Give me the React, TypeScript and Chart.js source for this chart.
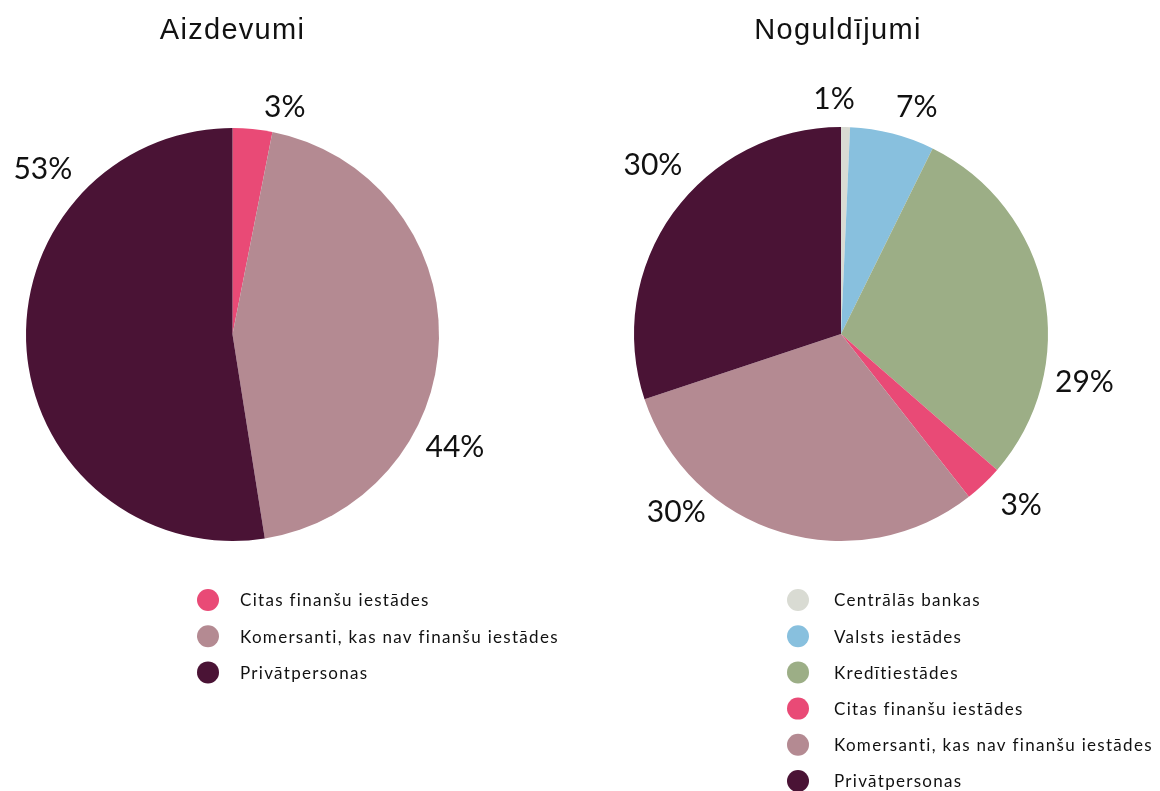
import React, { useEffect, useRef } from "react";
import { Chart, registerables } from "chart.js";

Chart.register(...registerables);

// ---- Data ----
const loanTitle = "Aizdevumi";
const loanCategories = ["Citas finanšu iestādes", "Komersanti, kas nav finanšu iestādes", "Privātpersonas"];
const loanValues = [3.1, 44.4, 52.5];
const loanLabels = ["3%", "44%", "53%"];
const loanColors = ["#E94A76", "#B48A92", "#4A1335"];

const depositTitle = "Noguldījumi";
const depositCategories = [
  "Centrālās bankas",
  "Valsts iestādes",
  "Kredītiestādes",
  "Citas finanšu iestādes",
  "Komersanti, kas nav finanšu iestādes",
  "Privātpersonas",
];
const depositValues = [0.7, 6.6, 29.1, 3.0, 30.5, 30.1];
const depositLabels = ["1%", "7%", "29%", "3%", "30%", "30%"];
const depositColors = ["#D9DBD3", "#88C0DE", "#9CAE86", "#E94A76", "#B48A92", "#4A1335"];

// label anchor positions (degrees clockwise from top, distance from centre)
const loanLabelPos = [
  [12.9, 234],
  [116.7, 249],
  [311.2, 252],
];
const depositLabelPos = [
  [358.3, 236],
  [18.4, 240],
  [101.0, 248],
  [133.4, 248],
  [222.9, 242],
  [312.0, 253],
];

const overlayPlugin = {
  id: "overlay",
  afterDraw(chart: any, _args: any, opts: any) {
    const ctx = chart.ctx;
    const meta = chart.getDatasetMeta(0);
    const arc0 = meta.data[0] as any;
    const cx = arc0.x;
    const cy = arc0.y;
    ctx.save();
    // title
    ctx.fillStyle = "#111";
    ctx.textAlign = "center";
    ctx.textBaseline = "alphabetic";
    ctx.font = "29px 'Liberation Sans', Arial, sans-serif";
    (ctx as any).letterSpacing = "1.3px";
    ctx.fillText(opts.title, cx + (opts.titleDx || 0), 39);

    // value labels
    ctx.font = "30px Lato, 'Open Sans', sans-serif";
    (ctx as any).letterSpacing = "0px";
    ctx.textBaseline = "middle";
    const texts: string[] = opts.labels;
    const pos: number[][] = opts.labelPos;
    texts.forEach((t, i) => {
      const a = (pos[i][0] * Math.PI) / 180;
      const d = pos[i][1];
      ctx.fillText(t, cx + d * Math.sin(a), cy - d * Math.cos(a) + 1);
    });

    // legend
    const labels: string[] = chart.data.labels;
    const colors: string[] = chart.data.datasets[0].backgroundColor;
    ctx.font = "17px Lato, 'Open Sans', sans-serif";
    (ctx as any).letterSpacing = "1.3px";
    ctx.textAlign = "left";
    labels.forEach((l, i) => {
      const y = opts.legendY + i * opts.legendGap;
      ctx.beginPath();
      ctx.arc(opts.legendDotX, y, 11, 0, Math.PI * 2);
      ctx.fillStyle = colors[i];
      ctx.fill();
      ctx.fillStyle = "#111";
      ctx.fillText(l, opts.legendTextX, y + 1);
    });
    ctx.restore();
  },
};

function PieChart(props: {
  categories: string[];
  values: number[];
  colors: string[];
  title: string;
  labels: string[];
  labelPos: number[][];
  padding: { left: number; right: number; top: number; bottom: number };
  legendDotX: number;
  legendTextX: number;
  titleDx: number;
  left: number;
}) {
  const ref = useRef<HTMLCanvasElement>(null);
  useEffect(() => {
    if (!ref.current) return;
    const chart = new Chart(ref.current, {
      type: "pie",
      data: {
        labels: props.categories,
        datasets: [
          {
            data: props.values,
            backgroundColor: props.colors,
            borderWidth: 0,
          },
        ],
      },
      options: {
        responsive: false,
        animation: false,
        devicePixelRatio: 1,
        layout: { padding: props.padding },
        plugins: {
          legend: { display: false },
          tooltip: { enabled: false },
          title: { display: false },
          overlay: {
            title: props.title,
            titleDx: props.titleDx,
            labels: props.labels,
            labelPos: props.labelPos,
            legendDotX: props.legendDotX,
            legendTextX: props.legendTextX,
            legendY: 600,
            legendGap: 36.2,
          },
        } as any,
      },
      plugins: [overlayPlugin],
    });
    return () => chart.destroy();
  }, []);
  return (
    <canvas
      ref={ref}
      width={580}
      height={791}
      style={{ position: "absolute", left: props.left, top: 0, width: 580, height: 791 }}
    />
  );
}

export default function App() {
  return (
    <div style={{ position: "absolute", left: 0, top: 0, width: 1160, height: 791, background: "#fff", overflow: "hidden" }}>
      <PieChart
        categories={loanCategories}
        values={loanValues}
        colors={loanColors}
        title={loanTitle}
        labels={loanLabels}
        labelPos={loanLabelPos}
        padding={{ left: 26, right: 141, top: 128, bottom: 250 }}
        legendDotX={208}
        legendTextX={240}
        titleDx={0}
        left={0}
      />
      <PieChart
        categories={depositCategories}
        values={depositValues}
        colors={depositColors}
        title={depositTitle}
        labels={depositLabels}
        labelPos={depositLabelPos}
        padding={{ left: 54, right: 112, top: 127, bottom: 250 }}
        legendDotX={218}
        legendTextX={254}
        titleDx={-3}
        left={580}
      />
    </div>
  );
}
